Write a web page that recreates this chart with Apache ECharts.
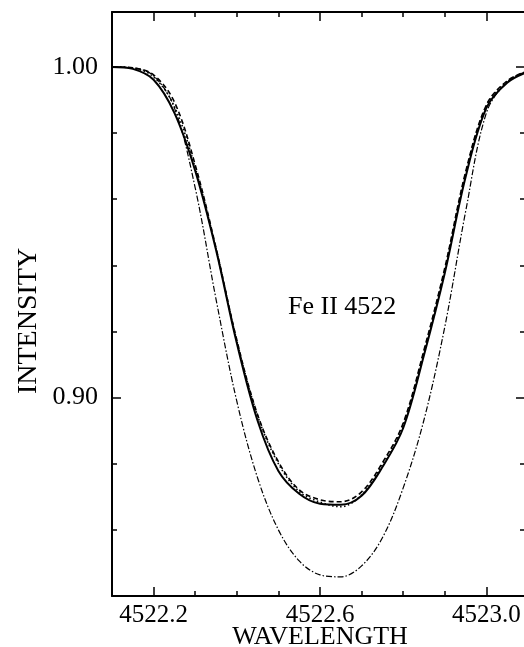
<!DOCTYPE html>
<html>
<head>
<meta charset="utf-8">
<script src="https://cdn.jsdelivr.net/npm/echarts@6/dist/echarts.min.js"></script>
<style>
  html, body { margin: 0; padding: 0; background: #fff; }
  #chart { width: 524px; height: 647px; }
</style>
</head>
<body>
<div id="chart"></div>
<script>
// wavelength grid (Angstrom)
const wavelength = [
  4522.10, 4522.15, 4522.20, 4522.25, 4522.30, 4522.35, 4522.40,
  4522.45, 4522.50, 4522.55, 4522.60, 4522.65, 4522.70, 4522.75,
  4522.80, 4522.85, 4522.90, 4522.95, 4523.00, 4523.05, 4523.10
]
// solid profile
const solidI = [
  1.0000, 0.9994, 0.9961, 0.9861, 0.9686, 0.9447, 0.9165,
  0.8930, 0.8778, 0.8709, 0.8679, 0.8676, 0.8703, 0.8790,
  0.8908, 0.9129, 0.9377, 0.9667, 0.9876, 0.9952, 0.9985
]
// dashed profile
const dashedI = [
  1.0000, 0.9997, 0.9976, 0.9894, 0.9704, 0.9453, 0.9174,
  0.8948, 0.8806, 0.8721, 0.8691, 0.8685, 0.8715, 0.8803,
  0.8923, 0.9144, 0.9392, 0.9682, 0.9885, 0.9958, 0.9988
]
// dotted profile
const dottedI = [
  1.0000, 0.9996, 0.9970, 0.9880, 0.9695, 0.9450, 0.9172,
  0.8945, 0.8800, 0.8716, 0.8684, 0.8670, 0.8706, 0.8797,
  0.8918, 0.9138, 0.9387, 0.9677, 0.9882, 0.9956, 0.9987
]
// dash-dot profile (deepest)
const dashDotI = [
  1.0000, 0.9997, 0.9973, 0.9876, 0.9634, 0.9298, 0.8989,
  0.8757, 0.8600, 0.8506, 0.8464, 0.8458, 0.8491, 0.8576,
  0.8727, 0.8933, 0.9214, 0.9562, 0.9861, 0.9955, 0.9988
]
const xLabelTicks = [4522.2, 4522.6, 4523.0]
const yLabelTicks = [0.90, 1.00]

const serif = "'Liberation Serif', 'Times New Roman', serif"
const black = '#000'

const pairs = (ys) => wavelength.map((x, i) => [x, ys[i]])

// one axis with short ticks, one overlaid with long ticks at the labelled values
const xAxisPair = (position, withLabels) => [
  {
    type: 'value', gridIndex: 0, position, min: 4522.1, max: 4523.1, interval: 0.1,
    axisLine: { show: true, lineStyle: { color: black, width: 2 } },
    axisTick: { show: true, inside: true, length: 5, lineStyle: { color: black, width: 1.5 } },
    axisLabel: withLabels ? {
      show: true, customValues: xLabelTicks, margin: 7,
      formatter: (v) => v.toFixed(1),
      color: black, fontFamily: serif, fontSize: 25
    } : { show: false },
    splitLine: { show: false },
    name: withLabels ? 'WAVELENGTH' : '',
    nameLocation: 'middle', nameGap: 28, nameMoveOverlap: false,
    nameTextStyle: { color: black, fontFamily: serif, fontSize: 26 }
  },
  {
    type: 'value', gridIndex: 0, position, min: 4522.1, max: 4523.1, interval: 0.1,
    axisLine: { show: false },
    axisTick: { show: true, inside: true, length: 9, customValues: xLabelTicks, lineStyle: { color: black, width: 1.5 } },
    axisLabel: { show: false },
    splitLine: { show: false }
  }
]

const yAxisPair = (position, withLabels, shortLen, longLen) => [
  {
    type: 'value', gridIndex: 0, position, min: 0.84, max: 1.0166, interval: 0.02,
    axisLine: { show: true, lineStyle: { color: black, width: 2 } },
    axisTick: { show: true, inside: true, length: shortLen, customValues: [0.86, 0.88, 0.90, 0.92, 0.94, 0.96, 0.98, 1.00], lineStyle: { color: black, width: 1.5 } },
    axisLabel: withLabels ? {
      show: true, customValues: yLabelTicks, margin: 14,
      formatter: (v) => v.toFixed(2),
      color: black, fontFamily: serif, fontSize: 26
    } : { show: false },
    splitLine: { show: false }
  },
  {
    type: 'value', gridIndex: 0, position, min: 0.84, max: 1.0166, interval: 0.02,
    axisLine: { show: false },
    axisTick: { show: true, inside: true, length: longLen, customValues: yLabelTicks, lineStyle: { color: black, width: 1.5 } },
    axisLabel: { show: false },
    splitLine: { show: false }
  }
]

const lineSeries = (name, ys, type, width) => ({
  name, type: 'line', xAxisIndex: 0, yAxisIndex: 0,
  data: pairs(ys), smooth: 0.35, showSymbol: false, symbol: 'none',
  lineStyle: { color: black, width, type }
})

const chart = echarts.init(document.getElementById('chart'), null, { renderer: 'canvas' })
chart.setOption({
  animation: false,
  backgroundColor: '#fff',
  grid: { left: 112, right: -4, top: 12, bottom: 51, containLabel: false, outerBoundsMode: 'none' },
  xAxis: [...xAxisPair('bottom', true), ...xAxisPair('top', false)],
  yAxis: [...yAxisPair('left', true, 5, 9), ...yAxisPair('right', false, 8, 12)],
  graphic: [
    {
      type: 'text', left: 288, top: 294,
      style: { text: 'Fe II 4522', fill: black, font: '26px ' + serif }
    },
    {
      // y axis title, placed like the original (a bit below the plot centre)
      type: 'text', x: 29, y: 321, rotation: Math.PI / 2,
      style: { text: 'INTENSITY', fill: black, font: '28px ' + serif, align: 'center', verticalAlign: 'middle' }
    }
  ],
  series: [
    lineSeries('dash-dot', dashDotI, [6, 2, 1.5, 2], 1.2),
    lineSeries('dotted', dottedI, [1.5, 2.5], 1.6),
    lineSeries('dashed', dashedI, [5, 3], 1.6),
    lineSeries('solid', solidI, 'solid', 2)
  ]
})
</script>
</body>
</html>
